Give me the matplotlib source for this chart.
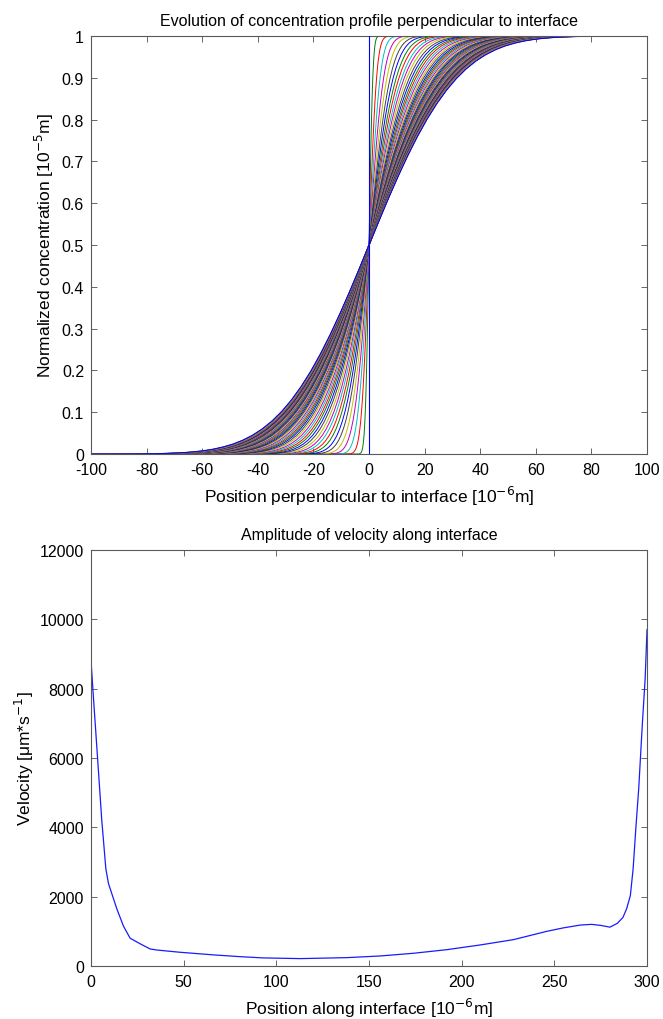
import numpy as np
import matplotlib
matplotlib.use("Agg")
import matplotlib.pyplot as plt

plt.rcParams['font.family'] = ['Liberation Sans', 'DejaVu Sans']
plt.rcParams['axes.unicode_minus'] = False

# --- concentration profiles (top panel) ---
# right half of the outermost profile: scaled distance (x / w) vs concentration
# (profiles are point-symmetric about (0, 0.5))
xi_half = [0.0, 0.1, 0.2, 0.3, 0.4, 0.5, 0.6, 0.7, 0.8, 0.9,
           1.0, 1.1, 1.2, 1.3, 1.4, 1.5, 1.6, 1.7, 1.8, 1.9,
           2.0, 2.1, 2.2, 2.3, 2.4, 2.5, 2.6]
c_half = [0.5, 0.5563, 0.6114, 0.6643, 0.7142, 0.7603, 0.8020, 0.8389, 0.8711, 0.8985,
          0.9214, 0.9401, 0.9552, 0.9670, 0.9762, 0.9830, 0.9882, 0.9919, 0.9946, 0.9964,
          0.9977, 0.9985, 0.9991, 0.9995, 0.9997, 0.9998, 0.9999]
# profile widths of the successive time steps [1e-6 m]
widths = [0.0, 1.5, 3.0, 4.4, 5.8, 7.1, 8.4, 9.6, 10.8, 11.9,
          13.0, 14.0, 15.0, 16.0, 16.9, 17.8, 18.6, 19.4, 20.2, 21.0,
          21.7, 22.4, 23.0, 23.6, 24.2, 24.8, 25.4, 25.9, 26.4, 26.9,
          27.4, 27.8, 28.2, 28.6, 29.0, 29.4, 29.8, 30.1, 30.4, 30.8,
          31.1, 31.4, 31.7, 31.9, 32.2, 32.5, 32.7, 33.0, 33.2, 33.4,
          33.7, 33.9, 34.1, 34.3, 34.5, 34.8, 35.0]

# --- velocity along interface (bottom panel) ---
pos = [0, 1.1, 3.4, 5.8, 8.0, 9.4, 13.9, 17.5, 21.1, 26.5, 31.9, 35.5, 48, 66, 80.5, 93,
       113, 138, 156, 174, 192, 210, 228, 246, 255, 264, 270, 275, 280, 284, 287,
       289, 291, 292.5, 294, 295.5, 297.5, 299, 300]
vel = [8800, 7900, 6100, 4200, 2800, 2380, 1650, 1150, 800, 640, 490, 460, 395, 320, 268, 232,
       212, 240, 288, 366, 470, 606, 760, 1000, 1100, 1180, 1200, 1170, 1120, 1230, 1400,
       1650, 2030, 2800, 4000, 5100, 7000, 8300, 9700]

matlab_colors = [(0, 0, 1), (0, 0.5, 0), (1, 0, 0), (0, 0.75, 0.75),
                 (0.75, 0, 0.75), (0.75, 0.75, 0), (0.25, 0.25, 0.25)]

fig = plt.figure(figsize=(6.63, 10.2), dpi=100)
ax1 = fig.add_axes([0.1373, 0.5539, 0.8386, 0.4098])
ax2 = fig.add_axes([0.1373, 0.052, 0.8386, 0.4078])

xh = np.array(xi_half)
ch = np.array(c_half)
xi = np.concatenate([-xh[::-1], xh[1:]])
cc = np.concatenate([1 - ch[::-1], ch[1:]])

for i, w in enumerate(widths):
    col = matlab_colors[i % len(matlab_colors)]
    if w == 0:
        # initial step profile (only the jump at x=0), kept visible on top
        ax1.plot([0, 0], [0, 1], color=col, lw=0.8, zorder=3)
    else:
        xs = np.concatenate([[-100], xi * w, [100]])
        cs = np.concatenate([[0], cc, [1]])
        ax1.plot(xs, cs, color=col, lw=0.7)

ax1.set_xlim(-100, 100)
ax1.set_ylim(0, 1)
ax1.set_xticks(np.arange(-100, 101, 20))
ax1.set_yticks(np.arange(0, 1.01, 0.1))
ax1.set_yticklabels(['0', '0.1', '0.2', '0.3', '0.4', '0.5', '0.6', '0.7', '0.8', '0.9', '1'])
ax1.set_title('Evolution of concentration profile perpendicular to interface', fontsize=11.5, pad=8)
ax1.set_xlabel('Position perpendicular to interface [10$^{-6}$m]', fontsize=12.5, labelpad=5)
ax1.set_ylabel('Normalized concentration [10$^{-5}$m]', fontsize=12.5, labelpad=4)

ax2.plot(pos, vel, color=(0.1, 0.1, 1.0), lw=0.9)
ax2.set_xlim(0, 300)
ax2.set_ylim(0, 12000)
ax2.set_xticks(np.arange(0, 301, 50))
ax2.set_yticks(np.arange(0, 12001, 2000))
ax2.set_title('Amplitude of velocity along interface', fontsize=11.5, pad=8)
ax2.set_xlabel('Position along interface [10$^{-6}$m]', fontsize=12.5, labelpad=5)
ax2.set_ylabel('Velocity [μm*s$^{-1}$]', fontsize=12.5, labelpad=3)

for ax in (ax1, ax2):
    ax.tick_params(direction='in', top=True, right=True, length=4, width=0.6,
                   labelsize=11.5, color=(0.3, 0.3, 0.3))
    ax.tick_params(axis='x', pad=6)
    ax.tick_params(axis='y', pad=5)
    for sp in ax.spines.values():
        sp.set_color((0.35, 0.35, 0.35))
        sp.set_linewidth(0.8)

fig.savefig('out.png', dpi=100)
